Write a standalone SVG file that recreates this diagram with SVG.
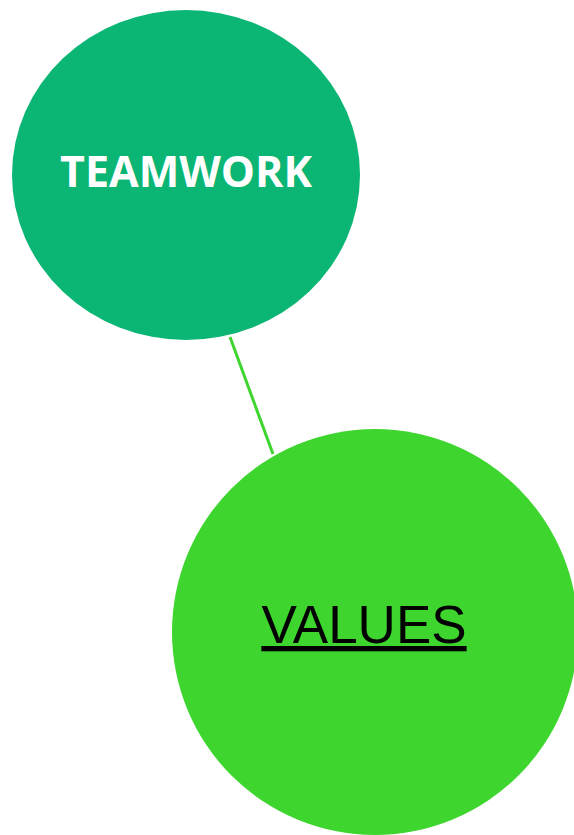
<svg xmlns="http://www.w3.org/2000/svg" width="574" height="835" viewBox="0 0 574 835">
<style>
.conn{stroke:#3dd52e;stroke-width:3;fill:none}
.t1{font-family:"Open Sans","DejaVu Sans",sans-serif;font-weight:bold;font-size:43px;fill:#ffffff;text-anchor:middle}
.t2{font-family:"Liberation Sans",Arial,sans-serif;font-size:53px;fill:#000000;text-anchor:middle;text-decoration:underline}
</style>
<rect width="574" height="835" fill="#ffffff"/>
<g id="connectors">
<line class="conn" x1="230" y1="337" x2="273" y2="454"/>
</g>
<g id="teamwork">
<ellipse cx="186" cy="175" rx="174" ry="165" fill="#0bb573"/>
<text class="t1" x="186" y="187">TEAMWORK</text>
</g>
<g id="values">
<circle cx="375" cy="632" r="203" fill="#3dd52e"/>
<text class="t2" x="364" y="643">VALUES</text>
</g>
</svg>
